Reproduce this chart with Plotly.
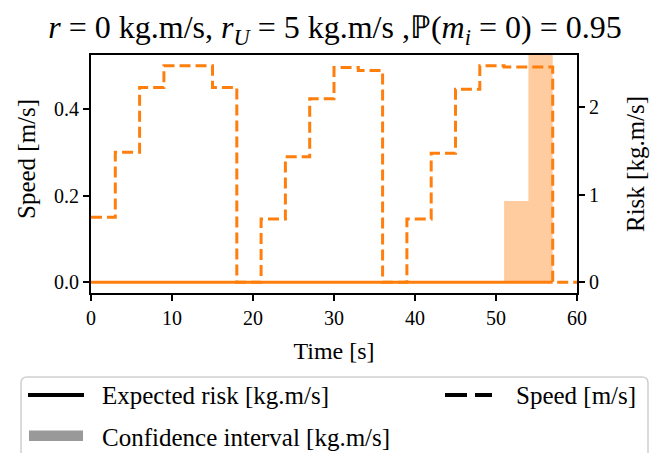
import plotly.graph_objects as go

# ---- data ----
speed_time = [0, 3, 6, 9, 12, 15, 18, 21, 24, 27, 30, 33, 36, 39, 42, 45, 48, 51, 54, 57, 60]
speed_vals = [0.15, 0.30, 0.45, 0.50, 0.50, 0.45, 0.0, 0.146, 0.29, 0.424, 0.496, 0.489,
              0.0, 0.146, 0.298, 0.446, 0.50, 0.497, 0.497, 0.0, 0.0]
risk_time = [0, 3, 6, 9, 12, 15, 18, 21, 24, 27, 30, 33, 36, 39, 42, 45, 48, 51, 54, 57]
risk_vals = [0.0] * len(risk_time)
ci_time = [51, 54, 57]
ci_upper = [0.93, 2.75, 2.75]

x_ticks = [0, 10, 20, 30, 40, 50, 60]
speed_ticks = [0.0, 0.2, 0.4]
risk_ticks = [0, 1, 2]

ORANGE = "#ff7f0e"
FONT = "Liberation Serif"

# plot area in pixels (for legend placement)
L, R, T, B = 91, 577, 55, 293
W, H = 658, 453
def px(x): return (x - L) / (R - L)
def py(y): return (B - y) / (B - T)

fig = go.Figure()

fig.add_trace(go.Scatter(x=ci_time, y=ci_upper, yaxis="y2", mode="lines",
                         line=dict(width=0, shape="hv", color="rgba(0,0,0,0)"),
                         fill="tozeroy", fillcolor="rgba(255,127,14,0.4)",
                         showlegend=False, hoverinfo="skip"))
fig.add_trace(go.Scatter(x=risk_time, y=risk_vals, yaxis="y2", mode="lines",
                         line=dict(color=ORANGE, width=3, shape="hv"), showlegend=False))
fig.add_trace(go.Scatter(x=speed_time, y=speed_vals, mode="lines",
                         line=dict(color=ORANGE, width=3, shape="hv", dash="11px,5px"),
                         showlegend=False))

axis_common = dict(showline=True, linecolor="black", linewidth=2, ticks="outside",
                   ticklen=6, tickwidth=1.5, tickcolor="black", showgrid=False,
                   zeroline=False, tickfont=dict(family=FONT, size=20, color="black"))

EQ = " = "
title_txt = (f"<i>r</i>{EQ}0 kg.m/s, <i>r</i><sub><i>U</i></sub>{EQ}5 kg.m/s ,"
             f"\u2119(<i>m</i><sub><i>i</i></sub>{EQ}0){EQ}0.95")

fig.update_layout(
    width=W, height=H,
    margin=dict(l=L, r=W - R, t=T, b=H - B),
    plot_bgcolor="white", paper_bgcolor="white",
    font=dict(family=FONT, color="black"),
    title=dict(text=title_txt,
               x=(335 / W), xanchor="center", y=1 - 27 / H, yanchor="middle",
               font=dict(family=FONT, size=32, color="black")),
    xaxis=dict(range=[0, 60], tickvals=x_ticks, ticktext=[str(v) for v in x_ticks],
               mirror=True, title=dict(text="Time [s]", font=dict(family=FONT, size=24), standoff=14),
               **axis_common),
    yaxis=dict(range=[-0.025, 0.525], tickvals=speed_ticks, ticktext=["%.1f" % v for v in speed_ticks],
               **axis_common),
    yaxis2=dict(range=[-0.1238, 2.6], tickvals=risk_ticks, ticktext=[str(v) for v in risk_ticks],
                overlaying="y", side="right",
                **axis_common),
)

# y-axis titles (placed as in the reference)
fig.add_annotation(text="Speed [m/s]", xref="paper", yref="paper", x=px(26), y=py(159),
                   xanchor="center", yanchor="middle", textangle=-90, showarrow=False,
                   font=dict(family=FONT, size=25, color="black"))
fig.add_annotation(text="Risk [kg.m/s]", xref="paper", yref="paper", x=px(635), y=py(164),
                   xanchor="center", yanchor="middle", textangle=-90, showarrow=False,
                   font=dict(family=FONT, size=25, color="black"))

# ---- legend (drawn manually) ----
x0, x1, y0, y1, rr = px(21), px(648), py(377), py(470), 6 / (R - L)
ry = 6 / (B - T)
fig.add_shape(type="path", xref="paper", yref="paper",
              path=f"M {x0},{y1} L {x0},{y0 - ry} Q {x0},{y0} {x0 + rr},{y0} L {x1 - rr},{y0} "
                   f"Q {x1},{y0} {x1},{y0 - ry} L {x1},{y1}",
              line=dict(color="#d0d0d0", width=1.5), fillcolor="rgba(255,255,255,0.8)")
fig.add_shape(type="line", xref="paper", yref="paper", x0=px(28), x1=px(84), y0=py(395), y1=py(395),
              line=dict(color="black", width=4))
fig.add_shape(type="rect", xref="paper", yref="paper", x0=px(29), x1=px(83), y0=py(441), y1=py(430.5),
              line=dict(width=0), fillcolor="#999999")
fig.add_shape(type="line", xref="paper", yref="paper", x0=px(445), x1=px(492), y0=py(395), y1=py(395),
              line=dict(color="black", width=4, dash="22px,8px"))

def legend_text(txt, x, y):
    fig.add_annotation(text=txt, xref="paper", yref="paper", x=px(x), y=py(y),
                       xanchor="left", yanchor="middle", showarrow=False,
                       font=dict(family=FONT, size=25, color="black"))

legend_text("Expected risk [kg.m/s]", 100, 395)
legend_text("Confidence interval [kg.m/s]", 100, 437)
legend_text("Speed [m/s]", 514, 395)

fig.write_html("out.html")
